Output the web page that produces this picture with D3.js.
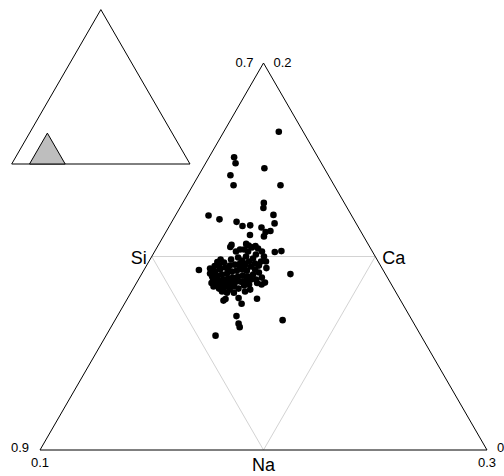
<!DOCTYPE html>
<html lang="en">
<head>
    <meta charset="UTF-8">
    <title>Ternary plot Si - Ca - Na</title>
    <style>
        body { margin: 0; background: #fff; }
        svg { display: block; font-family: "Liberation Sans", Arial, sans-serif; }
    </style>
</head>
<body>
    <div id="chart"></div>

    <script src="https://d3js.org/d3.v7.min.js"></script>
    <script>
        // Compositions (Si is the rest: si = 1 - na - ca)
        const na = [0.1246, 0.1112, 0.1134, 0.1276, 0.1142, 0.1182, 0.1392, 0.1363, 0.1374, 0.1148,
                    0.1207, 0.1437, 0.1290, 0.1327, 0.1360, 0.1416, 0.1464, 0.1465, 0.1446, 0.1450,
                    0.1384, 0.1327, 0.1327, 0.1390, 0.1405, 0.1377, 0.1364, 0.1437, 0.1539, 0.1566,
                    0.1246, 0.1292, 0.1306, 0.1316, 0.1308, 0.1666, 0.1543, 0.1435, 0.1440, 0.1496,
                    0.1524, 0.1580, 0.1533, 0.1562, 0.1576, 0.1750, 0.1490, 0.1434, 0.1471, 0.1540,
                    0.1564, 0.1336, 0.1354, 0.1425, 0.1455, 0.1480, 0.1502, 0.1502, 0.1480, 0.1448,
                    0.1422, 0.1418, 0.1461, 0.1395, 0.1524, 0.1503, 0.1470, 0.1435, 0.1322, 0.1339,
                    0.1357, 0.1373, 0.1393, 0.1413, 0.1440, 0.1322, 0.1341, 0.1361, 0.1381, 0.1398,
                    0.1417, 0.1438, 0.1462, 0.1336, 0.1356, 0.1379, 0.1398, 0.1417, 0.1438, 0.1457,
                    0.1483, 0.1360, 0.1380, 0.1402, 0.1422, 0.1442, 0.1464, 0.1484, 0.1504, 0.1384,
                    0.1403, 0.1421, 0.1446, 0.1488, 0.1508, 0.1405, 0.1430, 0.1500, 0.1496, 0.1521,
                    0.1547, 0.1526, 0.1526, 0.1305, 0.1339, 0.1363, 0.1389, 0.1414, 0.1461, 0.1508,
                    0.1574, 0.1375, 0.1324, 0.1424, 0.1458];
        const ca = [0.1645, 0.1513, 0.1482, 0.1456, 0.1420, 0.1368, 0.1368, 0.1277, 0.1251, 0.1212,
                    0.1192, 0.1215, 0.1179, 0.1158, 0.1161, 0.1150, 0.1171, 0.1132, 0.1127, 0.1104,
                    0.1111, 0.1060, 0.1049, 0.1065, 0.1057, 0.1036, 0.1026, 0.1054, 0.1023, 0.1028,
                    0.0930, 0.0938, 0.0951, 0.0984, 0.0971, 0.0909, 0.0940, 0.0772, 0.0780, 0.0785,
                    0.0756, 0.0782, 0.0692, 0.0653, 0.0635, 0.0671, 0.0591, 0.0829, 0.0834, 0.0863,
                    0.0855, 0.0863, 0.0845, 0.1047, 0.1041, 0.1026, 0.1000, 0.0974, 0.0964, 0.0974,
                    0.1000, 0.1026, 0.1010, 0.1036, 0.0974, 0.0953, 0.0948, 0.0964, 0.0922, 0.0933,
                    0.0943, 0.0953, 0.0958, 0.0964, 0.0953, 0.0896, 0.0901, 0.0907, 0.0912, 0.0922,
                    0.0927, 0.0933, 0.0927, 0.0876, 0.0881, 0.0881, 0.0886, 0.0891, 0.0896, 0.0901,
                    0.0896, 0.0855, 0.0860, 0.0860, 0.0865, 0.0870, 0.0870, 0.0876, 0.0881, 0.0834,
                    0.0839, 0.0850, 0.0845, 0.0850, 0.0855, 0.0819, 0.0813, 0.0907, 0.0933, 0.0917,
                    0.0891, 0.0881, 0.0829, 0.0912, 0.0969, 0.0984, 0.0995, 0.0979, 0.0813, 0.0819,
                    0.0865, 0.0933, 0.0953, 0.0943, 0.0990];

        // zoomed part of the simplex, corners as [na, ca]: bottom-left, bottom-right, top
        const zoomCorners = [[0.1, 0], [0.3, 0], [0.1, 0.2]];
        const fullCorners = [[0, 0], [1, 0], [0, 1]];
        const partNames = ["Si", "Ca", "Na"];

        const width = 504, height = 476;
        const fmt = d3.format(".1~f");

        const svg = d3.select("#chart").append("svg")
            .attr("width", width)
            .attr("height", height);

        // ternary -> plane: horizontal = na + ca/2, vertical = ca
        const x = d3.scaleLinear().domain([0.1, 0.3]).range([40, 487]);
        const y = d3.scaleLinear().domain([0, 0.2]).range([450, 63]);
        const px = d => x(d[0] + d[1] / 2);
        const py = d => y(d[1]);

        const xi = d3.scaleLinear().domain([0, 1]).range([11.7, 190]);
        const yi = d3.scaleLinear().domain([0, 1]).range([164, 9.6]);
        const pxi = d => xi(d[0] + d[1] / 2);
        const pyi = d => yi(d[1]);

        const mid = (a, b) => [(a[0] + b[0]) / 2, (a[1] + b[1]) / 2];

        // small overview triangle
        const inset = svg.append("g");
        inset.append("polygon")
            .attr("points", fullCorners.map(d => pxi(d) + "," + pyi(d)).join(" "))
            .attr("fill", "none")
            .attr("stroke", "#000")
            .attr("stroke-width", 1);
        inset.append("polygon")
            .attr("points", zoomCorners.map(d => pxi(d) + "," + pyi(d)).join(" "))
            .attr("fill", "#bebebe")
            .attr("stroke", "#000")
            .attr("stroke-width", 1);

        // main triangle
        const mids = [mid(zoomCorners[0], zoomCorners[2]), mid(zoomCorners[1], zoomCorners[2]), mid(zoomCorners[0], zoomCorners[1])];
        svg.append("polygon")
            .attr("points", mids.map(d => px(d) + "," + py(d)).join(" "))
            .attr("fill", "none")
            .attr("stroke", "#d3d3d3")
            .attr("stroke-width", 1);

        svg.append("polygon")
            .attr("points", zoomCorners.map(d => px(d) + "," + py(d)).join(" "))
            .attr("fill", "none")
            .attr("stroke", "#000")
            .attr("stroke-width", 1);

        // part names at the side midpoints
        svg.append("text").attr("x", px(mids[0]) - 5).attr("y", py(mids[0]) + 7)
            .attr("text-anchor", "end").style("font-size", "18px").text(partNames[0]);
        svg.append("text").attr("x", px(mids[1]) + 7).attr("y", py(mids[1]) + 7)
            .attr("text-anchor", "start").style("font-size", "18px").text(partNames[1]);
        svg.append("text").attr("x", px(mids[2])).attr("y", py(mids[2]) + 21)
            .attr("text-anchor", "middle").style("font-size", "18px").text(partNames[2]);

        // corner values (the right one runs off the edge, as in the original)
        const si = d => 1 - d[0] - d[1];
        const bl = zoomCorners[0], br = zoomCorners[1], tp = zoomCorners[2];
        const corner = (t, xx, yy, anchor) => svg.append("text")
            .attr("x", xx).attr("y", yy)
            .attr("text-anchor", anchor)
            .style("font-size", "13px")
            .text(t);
        corner(fmt(si(bl)), px(bl) - 11, py(bl) + 2, "end");
        corner(fmt(bl[0]), px(bl), py(bl) + 17, "middle");
        corner(fmt(si(br)), px(br) + 10, py(br) + 2, "start");
        corner(fmt(br[0]), px(br), py(br) + 17, "middle");
        corner(fmt(si(tp)), px(tp) - 10, py(tp) + 4, "end");
        corner(fmt(tp[1]), px(tp) + 10, py(tp) + 4, "start");

        // observations
        const points = na.map((v, i) => [v, ca[i]]);
        svg.append("g")
            .selectAll("circle")
            .data(points)
            .enter().append("circle")
            .attr("cx", px)
            .attr("cy", py)
            .attr("r", 3.3)
            .attr("fill", "#000");
    </script>
</body>
</html>
